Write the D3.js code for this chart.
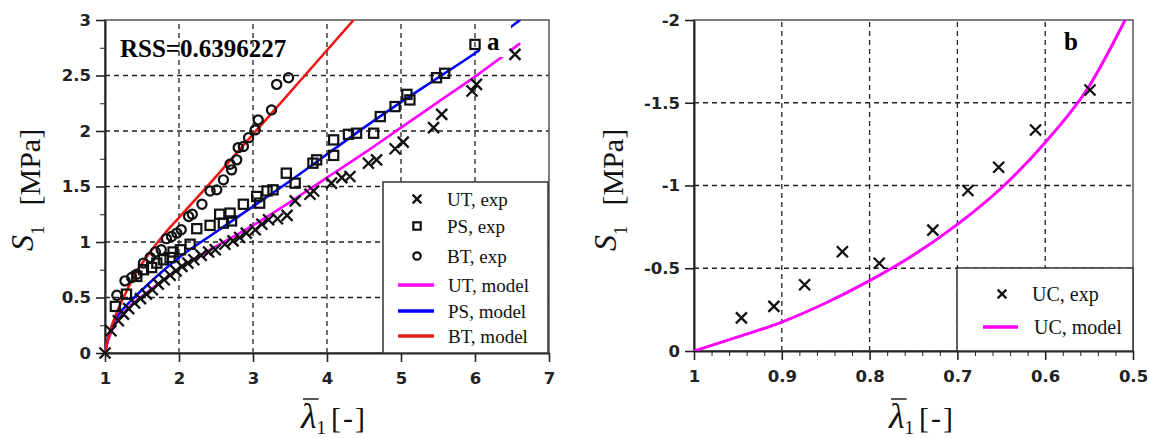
<!DOCTYPE html>
<html>
<head>
<meta charset="utf-8">
<script src="https://cdn.jsdelivr.net/npm/d3@7"></script>
<style>
  body { margin: 0; background: #fff; }
  svg { display: block; }
</style>
</head>
<body>
<div id="chart"></div>
<script>
const width = 1149;
const height = 438;

// panel a: tension tests, stretch >= 1  ([lambda, S1 in MPa])
const utExp = [
  [1.0, 0], [1.08, 0.2], [1.18, 0.29], [1.25, 0.35], [1.32, 0.4], [1.4, 0.45], [1.48, 0.49],
  [1.56, 0.53], [1.64, 0.57], [1.72, 0.62], [1.8, 0.66], [1.88, 0.7], [1.96, 0.74],
  [2.04, 0.78], [2.12, 0.81], [2.2, 0.84], [2.3, 0.88], [2.4, 0.91], [2.49, 0.93],
  [2.62, 0.98], [2.73, 1.01], [2.82, 1.04], [2.91, 1.08], [3.03, 1.11], [3.12, 1.16],
  [3.21, 1.2], [3.33, 1.21], [3.46, 1.24], [3.57, 1.37], [3.77, 1.43], [3.82, 1.46],
  [4.06, 1.53], [4.2, 1.58], [4.31, 1.59], [4.56, 1.71], [4.67, 1.74], [4.92, 1.84],
  [5.03, 1.9], [5.44, 2.03], [5.55, 2.15], [5.96, 2.36], [6.02, 2.42], [6.54, 2.69]
];
const psExp = [
  [1.14, 0.42], [1.29, 0.53], [1.43, 0.69], [1.52, 0.75], [1.63, 0.77], [1.7, 0.81],
  [1.79, 0.84], [1.88, 0.86], [1.92, 0.91], [2.02, 0.93], [2.15, 0.98], [2.24, 1.12],
  [2.42, 1.15], [2.55, 1.25], [2.6, 1.17], [2.69, 1.26], [2.71, 1.19], [2.87, 1.34],
  [3.05, 1.41], [3.09, 1.35], [3.19, 1.46], [3.27, 1.47], [3.45, 1.62], [3.57, 1.53],
  [3.81, 1.71], [3.86, 1.74], [4.09, 1.78], [4.09, 1.92], [4.29, 1.97], [4.4, 1.98],
  [4.63, 1.98], [4.72, 2.13], [4.92, 2.22], [5.08, 2.33], [5.12, 2.28], [5.48, 2.48],
  [5.59, 2.52], [6.0, 2.78]
];
const btExp = [
  [1.16, 0.52], [1.27, 0.65], [1.36, 0.68], [1.43, 0.71], [1.52, 0.81], [1.61, 0.86],
  [1.68, 0.91], [1.76, 0.93], [1.83, 1.03], [1.9, 1.05], [1.97, 1.08], [2.03, 1.11],
  [2.13, 1.23], [2.18, 1.25], [2.31, 1.34], [2.42, 1.46], [2.51, 1.47], [2.6, 1.56],
  [2.69, 1.7], [2.71, 1.65], [2.78, 1.74], [2.8, 1.85], [2.87, 1.86], [2.94, 1.94],
  [3.03, 2.01], [3.07, 2.1], [3.25, 2.19], [3.32, 2.42], [3.48, 2.48]
];
const utModel = [
  [1, 0], [1.02, 0.06], [1.05, 0.13], [1.1, 0.21], [1.2, 0.32], [1.35, 0.43], [1.5, 0.51],
  [1.75, 0.64], [2, 0.76], [2.5, 0.96], [3, 1.15], [3.5, 1.36], [4, 1.58], [4.5, 1.8],
  [5, 2.03], [5.5, 2.26], [6, 2.49], [6.61, 2.79]
];
const psModel = [
  [1, 0], [1.03, 0.1], [1.07, 0.2], [1.11, 0.27], [1.2, 0.36], [1.38, 0.49], [1.6, 0.63],
  [2, 0.86], [2.5, 1.09], [3, 1.32], [3.5, 1.55], [4, 1.79], [4.5, 2.03], [5, 2.26],
  [5.5, 2.48], [6, 2.7], [6.61, 3.0]
];
const btModel = [
  [1, 0], [1.03, 0.1], [1.08, 0.22], [1.15, 0.35], [1.25, 0.5], [1.4, 0.7], [1.6, 0.9],
  [1.8, 1.07], [2.0, 1.22], [2.3, 1.44], [3.0, 1.97], [3.7, 2.5], [4.36, 3.0]
];

// panel b: compression test, stretch <= 1
const ucExp = [
  [0.946, -0.2], [0.909, -0.27], [0.874, -0.4], [0.831, -0.6], [0.789, -0.53],
  [0.728, -0.73], [0.688, -0.97], [0.653, -1.11], [0.611, -1.335], [0.549, -1.577]
];
const ucModel = [
  [1, 0], [0.95, -0.085], [0.9, -0.175], [0.85, -0.29], [0.8, -0.425], [0.75, -0.58],
  [0.7, -0.765], [0.65, -0.985], [0.6, -1.26], [0.55, -1.6], [0.509, -2.0]
];

const xTicksA = [1, 2, 3, 4, 5, 6, 7];
const yTicksA = [0, 0.5, 1, 1.5, 2, 2.5, 3];
const yMinorA = [0.25, 0.75, 1.25, 1.75, 2.25, 2.75];
const xTicksB = [1, 0.9, 0.8, 0.7, 0.6, 0.5];
const xMinorB = [0.98, 0.96, 0.94, 0.92, 0.88, 0.86, 0.84, 0.82, 0.78, 0.76, 0.74, 0.72,
  0.68, 0.66, 0.64, 0.62, 0.58, 0.56, 0.54, 0.52];
const yTicksB = [0, -0.5, -1, -1.5, -2];

const MAGENTA = '#ff00ff';
const BLUE = '#0000ff';
const RED = '#f01414';
const SERIF = '"Liberation Serif", "Times New Roman", serif';
const SANS = '"DejaVu Sans", Verdana, sans-serif';

const svg = d3.select('#chart')
  .append('svg')
  .attr('width', width)
  .attr('height', height);

const crossPath = (s) => `M${-s},${-s}L${s},${s}M${-s},${s}L${s},${-s}`;

function drawPanel(cfg) {
  const x = d3.scaleLinear().domain(cfg.xDomain).range(cfg.xRange);
  const y = d3.scaleLinear().domain(cfg.yDomain).range(cfg.yRange);
  const [x0, x1] = cfg.xRange;
  const [y0, y1] = cfg.yRange;
  const g = svg.append('g');

  // dashed grid on inner major ticks
  const grid = g.append('g')
    .attr('stroke', '#222')
    .attr('stroke-width', 1.3)
    .attr('stroke-dasharray', '5,4');
  grid.selectAll('line.v')
    .data(cfg.xTicks.slice(1, -1))
    .join('line')
    .attr('x1', (d) => x(d)).attr('x2', (d) => x(d))
    .attr('y1', y0).attr('y2', y1);
  grid.selectAll('line.h')
    .data(cfg.yTicks.slice(1, -1))
    .join('line')
    .attr('class', 'h')
    .attr('y1', (d) => y(d)).attr('y2', (d) => y(d))
    .attr('x1', x0).attr('x2', x1);

  // frame
  g.append('rect')
    .attr('x', x0).attr('y', y1)
    .attr('width', x1 - x0).attr('height', y0 - y1)
    .attr('fill', 'none')
    .attr('stroke', '#555')
    .attr('stroke-width', 1.5);

  // axes
  const styleAxis = (sel) => {
    sel.attr('font-family', SANS)
      .attr('font-size', 16.5)
      .attr('font-weight', 'bold')
      .attr('color', '#222');
    sel.select('.domain').attr('stroke-width', 2);
    sel.selectAll('.tick line').attr('stroke-width', 1.6);
  };
  g.append('g')
    .attr('transform', `translate(0,${y0})`)
    .call(d3.axisBottom(x).tickValues(cfg.xTicks).tickFormat(String)
      .tickSize(9).tickSizeOuter(0).tickPadding(10))
    .call(styleAxis);
  g.append('g')
    .attr('transform', `translate(${x0},0)`)
    .call(d3.axisLeft(y).tickValues(cfg.yTicks).tickFormat(String)
      .tickSize(9).tickSizeOuter(0).tickPadding(5))
    .call(styleAxis);
  if (cfg.xMinor) {
    g.append('g')
      .attr('transform', `translate(0,${y0})`)
      .call(d3.axisBottom(x).tickValues(cfg.xMinor).tickFormat('').tickSize(5).tickSizeOuter(0))
      .call((s) => s.select('.domain').remove())
      .attr('color', '#222');
  }
  if (cfg.yMinor) {
    g.append('g')
      .attr('transform', `translate(${x0},0)`)
      .call(d3.axisLeft(y).tickValues(cfg.yMinor).tickFormat('').tickSize(5).tickSizeOuter(0))
      .call((s) => s.select('.domain').remove())
      .attr('color', '#222');
  }

  // clip for curves
  const clipId = 'clip-' + cfg.name;
  g.append('clipPath').attr('id', clipId)
    .append('rect')
    .attr('x', x0).attr('y', y1)
    .attr('width', x1 - x0).attr('height', y0 - y1);
  const plot = g.append('g').attr('clip-path', `url(#${clipId})`);

  // y label: S1 [MPa]
  const yl = g.append('text')
    .attr('transform', `translate(${cfg.yLabelX},251) rotate(-90)`)
    .attr('font-family', SERIF)
    .attr('font-size', 30)
    .attr('fill', '#111');
  yl.append('tspan').attr('font-style', 'italic').attr('font-size', 32).attr('dy', -7).text('S');
  yl.append('tspan').attr('font-size', 19).attr('dy', 11).text('1');
  yl.append('tspan').attr('dx', 20).attr('dy', -4).text('[MPa]');

  // x label: lambda-bar 1 [-]
  const xl = g.append('text')
    .attr('x', cfg.xLabelX)
    .attr('y', 428)
    .attr('font-family', SERIF)
    .attr('font-size', 30)
    .attr('fill', '#111');
  xl.append('tspan').attr('font-style', 'italic').attr('font-size', 36).text('λ');
  xl.append('tspan').attr('font-size', 19).attr('dy', 6).text('1');
  xl.append('tspan').attr('dx', 5).attr('dy', -6).text('[');
  xl.append('tspan').attr('dx', 2).text('-');
  xl.append('tspan').attr('dx', 2).text(']');
  const ext = xl.node().getExtentOfChar(0);
  g.append('line')
    .attr('x1', ext.x + 2).attr('x2', ext.x + ext.width + 2)
    .attr('y1', 399).attr('y2', 399)
    .attr('stroke', '#111').attr('stroke-width', 1.4);

  return { g, plot, x, y };
}

function drawCurve(p, data, color, w) {
  p.plot.append('path')
    .datum(data)
    .attr('fill', 'none')
    .attr('stroke', color)
    .attr('stroke-width', w)
    .attr('d', d3.line().x((d) => p.x(d[0])).y((d) => p.y(d[1])).curve(d3.curveMonotoneX));
}

function drawMarkers(p, data, kind) {
  const sel = p.g.append('g')
    .attr('fill', 'none')
    .attr('stroke', '#111')
    .selectAll('g')
    .data(data)
    .join('g')
    .attr('transform', (d) => `translate(${p.x(d[0])},${p.y(d[1])})`);
  addSymbol(sel, kind, 1);
}

function addSymbol(sel, kind, scale) {
  if (kind === 'cross') {
    sel.append('path').attr('d', crossPath(5.5 * scale)).attr('stroke-width', 2.3);
  } else if (kind === 'square') {
    const s = 4.6 * scale;
    sel.append('rect').attr('x', -s).attr('y', -s).attr('width', 2 * s).attr('height', 2 * s)
      .attr('stroke-width', 2.2);
  } else {
    sel.append('circle').attr('r', 4.6 * scale).attr('stroke-width', 2.2);
  }
}

function drawLegend(items, box) {
  const lg = svg.append('g');
  lg.append('rect')
    .attr('x', box.x).attr('y', box.y)
    .attr('width', box.w).attr('height', box.h)
    .attr('fill', '#fff')
    .attr('stroke', '#333')
    .attr('stroke-width', 1.5);
  items.forEach((it) => {
    const row = lg.append('g').attr('transform', `translate(0,${it.y})`);
    if (it.kind === 'line') {
      row.append('line')
        .attr('x1', it.lx1).attr('x2', it.lx2)
        .attr('stroke', it.color).attr('stroke-width', 3.5);
    } else {
      const m = row.append('g').attr('transform', `translate(${it.sx},0)`)
        .attr('fill', 'none').attr('stroke', '#111');
      addSymbol(m, it.kind, 0.8);
    }
    row.append('text')
      .attr('x', it.tx).attr('y', 7)
      .attr('font-family', SERIF)
      .attr('font-size', box.fs)
      .attr('fill', '#111')
      .text(it.label);
  });
}

// ---- panel a ----
const pa = drawPanel({
  name: 'a',
  xDomain: [1, 7], xRange: [105, 549],
  yDomain: [0, 3], yRange: [353, 20],
  xTicks: xTicksA, yTicks: yTicksA, yMinor: yMinorA,
  yLabelX: 40, xLabelX: 301
});

drawLegend([
  { kind: 'cross', sx: 417, tx: 447, y: 199, label: 'UT, exp' },
  { kind: 'square', sx: 417, tx: 447, y: 226, label: 'PS, exp' },
  { kind: 'circle', sx: 417, tx: 447, y: 256, label: 'BT, exp' },
  { kind: 'line', lx1: 398, lx2: 434, color: MAGENTA, tx: 448, y: 285, label: 'UT, model' },
  { kind: 'line', lx1: 398, lx2: 434, color: BLUE, tx: 448, y: 311, label: 'PS, model' },
  { kind: 'line', lx1: 398, lx2: 434, color: '#e02020', tx: 448, y: 336, label: 'BT, model' }
], { x: 383, y: 182, w: 165, h: 171, fs: 19 });

drawCurve(pa, utModel, MAGENTA, 2.6);
drawCurve(pa, psModel, BLUE, 2.6);
drawCurve(pa, btModel, RED, 2.6);

pa.g.append('rect')
  .attr('x', 480).attr('y', 24).attr('width', 31).attr('height', 33)
  .attr('fill', '#fff');
pa.g.append('text')
  .attr('x', 487).attr('y', 50)
  .attr('font-family', SERIF).attr('font-size', 25).attr('font-weight', 'bold')
  .text('a');
pa.g.append('text')
  .attr('x', 120).attr('y', 57)
  .attr('font-family', SERIF).attr('font-size', 25).attr('font-weight', 'bold')
  .text('RSS=0.6396227');

drawMarkers(pa, utExp, 'cross');
drawMarkers(pa, psExp, 'square');
drawMarkers(pa, btExp, 'circle');

// ---- panel b ----
const pb = drawPanel({
  name: 'b',
  xDomain: [1, 0.5], xRange: [694, 1133],
  yDomain: [0, -2], yRange: [351, 20],
  xTicks: xTicksB, yTicks: yTicksB, xMinor: xMinorB,
  yLabelX: 623, xLabelX: 889
});

drawLegend([
  { kind: 'cross', sx: 1002, tx: 1032, y: 294, label: 'UC, exp' },
  { kind: 'line', lx1: 983, lx2: 1018, color: MAGENTA, tx: 1034, y: 327, label: 'UC, model' }
], { x: 957, y: 268, w: 176, h: 83, fs: 20 });

drawCurve(pb, ucModel, MAGENTA, 3);
drawMarkers(pb, ucExp, 'cross');

pb.g.append('text')
  .attr('x', 1064).attr('y', 50)
  .attr('font-family', SERIF).attr('font-size', 25).attr('font-weight', 'bold')
  .text('b');
</script>
</body>
</html>
